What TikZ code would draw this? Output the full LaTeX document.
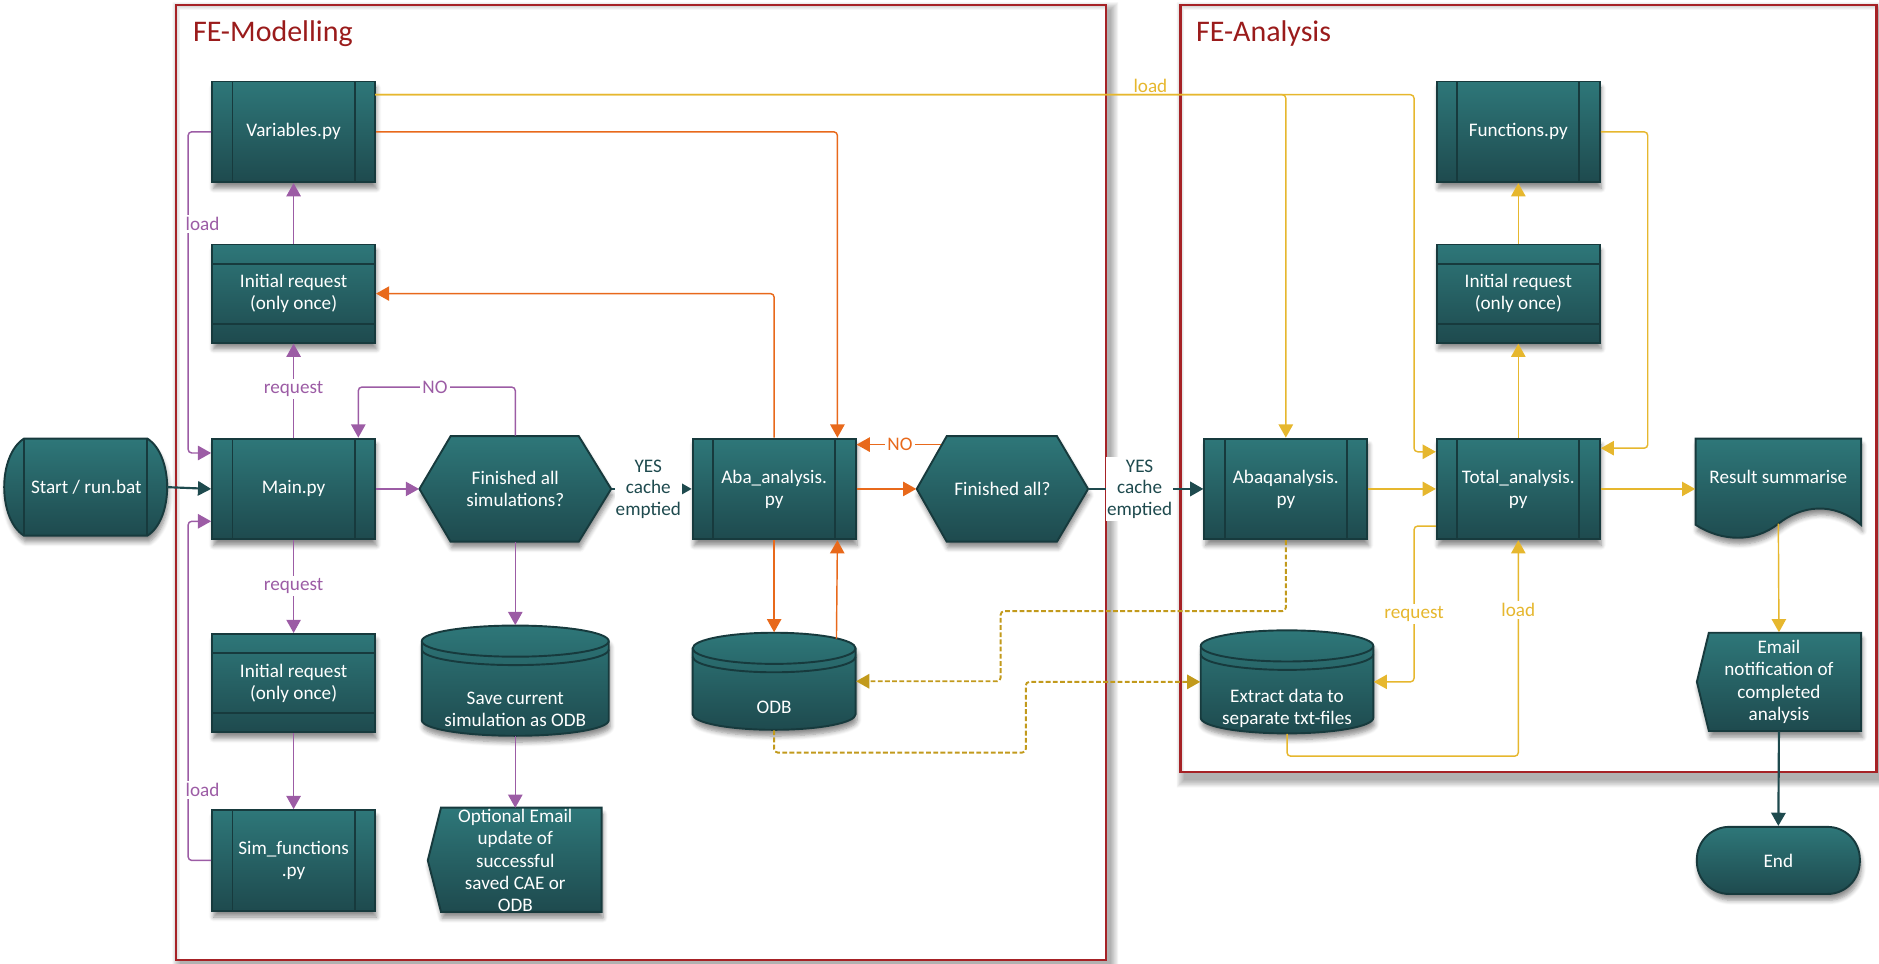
\documentclass[tikz,border=0pt]{standalone}
\usepackage{fontspec}
\setmainfont{Carlito}
\usetikzlibrary{arrows.meta,calc,shadows,shadows.blur}

\definecolor{tealTop}{HTML}{2E7779}
\definecolor{tealBot}{HTML}{1E4A4E}
\definecolor{tealLine}{HTML}{173A3D}
\definecolor{arrTeal}{HTML}{1E4A4E}
\definecolor{oraC}{HTML}{E8691B}
\definecolor{purC}{HTML}{9C5CA5}
\definecolor{yelC}{HTML}{E6B72E}
\definecolor{goldC}{HTML}{C29A1C}
\definecolor{frameRed}{HTML}{A62226}
\definecolor{titleRed}{HTML}{9A1B1B}

\tikzset{
  shp/.style={top color=tealTop, bottom color=tealBot, draw=tealLine, line width=0.8pt,
    blur shadow={shadow xshift=0.6pt, shadow yshift=-2.6pt, shadow blur steps=6, shadow opacity=45}},
  txt/.style={text=white, font=\fontsize{8}{9.2}\selectfont, align=center},
  proc/.style={shp, txt, rectangle, minimum width=68pt, minimum height=42pt, inner sep=0pt,
    path picture={\draw[tealLine, line width=0.8pt]
      ([xshift=8.5pt]path picture bounding box.north west) -- ([xshift=8.5pt]path picture bounding box.south west)
      ([xshift=-8.5pt]path picture bounding box.north east) -- ([xshift=-8.5pt]path picture bounding box.south east);}},
  reqbox/.style={shp, txt, rectangle, minimum width=68pt, minimum height=41pt, inner sep=0pt,
    path picture={\draw[tealLine, line width=0.8pt]
      ([yshift=-8pt]path picture bounding box.north west) -- ([yshift=-8pt]path picture bounding box.north east)
      ([yshift=8pt]path picture bounding box.south west) -- ([yshift=8pt]path picture bounding box.south east);}},
  holder/.style={txt, rectangle, inner sep=0pt},
  rimline/.style={draw=tealLine, line width=0.8pt},
  con/.style={line width=0.6pt, rounded corners=1.5pt, -{Triangle[length=5.5pt,width=6pt]}},
  pur/.style={con, draw=purC},
  ora/.style={con, draw=oraC},
  yel/.style={con, draw=yelC},
  dk/.style={con, draw=arrTeal, line width=0.9pt},
  dsh/.style={con, draw=goldC, line width=0.8pt, dash pattern=on 2pt off 1pt},
  lbl/.style={font=\fontsize{8}{9}\selectfont, fill=white, inner sep=1pt},
  yes/.style={lbl, text=arrTeal, align=center, inner xsep=0.5pt, font=\fontsize{8}{9}\selectfont},
  grpbox/.style={draw=frameRed, line width=1pt},
  grpshade/.style={fill=black, fill opacity=0.05, even odd rule},
  ttl/.style={text=titleRed, font=\fontsize{12.5}{14}\selectfont, anchor=west}
}

% cylinder body: #1 left, #2 right, #3 top, #4 bottom
\newcommand\drawcyl[4]{%
  \path[shp] (#1,#3+13) -- (#1,#4-13)
    arc[start angle=180, end angle=360, x radius={(#2-#1)/4*1pt}, y radius=6.5pt]
    -- (#2,#3+13)
    arc[start angle=0, end angle=180, x radius={(#2-#1)/4*1pt}, y radius=6.5pt] -- cycle;
  \path[rimline] (#1,#3+13) arc[start angle=180, end angle=360, x radius={(#2-#1)/4*1pt}, y radius=6.5pt];
  \path[rimline] (#1,#3+20) arc[start angle=180, end angle=360, x radius={(#2-#1)/4*1pt}, y radius=6.5pt];
}

\begin{document}
\begin{tikzpicture}[x=0.5pt,y=-0.5pt]
\useasboundingbox (0,0) rectangle (1568,804);

% ---------- group frames: soft shadow ring outside, then the border ----------
\foreach \s in {1,...,7} {
  \path[grpshade] (147+4-\s,4+5-\s) rectangle (923+3+\s,801+5+\s) (147,4) rectangle (923,801);
  \path[grpshade] (985+4-\s,4+5-\s) rectangle (1566+3+\s,644+6+\s) (985,4) rectangle (1566,644);
}
\path[grpbox] (147,4) rectangle (923,801);
\path[grpbox] (985,4) rectangle (1566,644);
\node[ttl] (tmod) at (154,28) {FE-Modelling};
\node[ttl] (tana) at (991,28) {FE-Analysis};

% ---------- start ----------
\path[shp] (20,366) -- (123,366) .. controls (145,380) and (145,433) .. (123,447)
  -- (20,447) .. controls (-2,433) and (-2,380) .. (20,366) -- cycle;
\path[rimline] (20,366) -- (20,447) (123,366) -- (123,447);
\node[holder, minimum width=67pt, minimum height=40.5pt] (start) at (72,406.5) {Start / run.bat};

% ---------- FE-Modelling ----------
\node[proc] (var) at (245,110) {Variables.py};
\node[reqbox] (ir1) at (245,245) {Initial request\\(only once)};
\node[proc] (main) at (245,408) {Main.py};
\node[reqbox] (ir2) at (245,570) {Initial request\\(only once)};
\node[proc] (sim) at (245,718) {Sim\_functions\\.py};

\path[shp] (350,408) -- (376,364) -- (483,364) -- (510,408) -- (483,452) -- (376,452) -- cycle;
\node[holder, minimum width=80pt, minimum height=44pt] (fin1) at (430,408) {Finished all\\simulations?};

\drawcyl{352}{508}{522}{614}
\node[holder, minimum width=78pt, minimum height=46pt] (save) at (430,568) {};
\node[txt] (savet) at (430,592) {Save current\\simulation as ODB};

\path[shp] (368,674) -- (502,674) -- (502,761) -- (368,761) -- (357,718) -- cycle;
\node[holder, minimum width=72.5pt, minimum height=43.5pt] (opt) at (430,718)
  {Optional Email\\update of\\successful\\saved CAE or\\ODB};

\node[proc] (aba) at (646,408) {Aba\_analysis.\\py};

\drawcyl{578}{714}{528}{609}
\node[holder, minimum width=68pt, minimum height=40.5pt] (odb) at (646,568.5) {};
\node[txt] (odbt) at (646,590) {ODB};

\path[shp] (765,408) -- (790,364) -- (882,364) -- (908,408) -- (882,452) -- (790,452) -- cycle;
\node[holder, minimum width=71.5pt, minimum height=44pt] (fin2) at (836.5,408) {Finished all?};

% ---------- FE-Analysis ----------
\node[proc] (abaq) at (1073,408) {Abaqanalysis.\\py};
\node[proc] (tot) at (1267,408) {Total\_analysis.\\py};
\node[proc] (fun) at (1267,110) {Functions.py};
\node[reqbox] (ir3) at (1267,245) {Initial request\\(only once)};

\drawcyl{1002}{1146}{526}{612}
\node[holder, minimum width=72pt, minimum height=43pt] (extract) at (1074,569) {};
\node[txt] (extractt) at (1074,591) {Extract data to\\separate txt-files};

\path[shp] (1415,366) -- (1553,366) -- (1553,438) .. controls (1530,418) and (1503,422) .. (1484,437)
  .. controls (1464,453) and (1437,452) .. (1415,438) -- cycle;
\node[holder, minimum width=69pt, minimum height=42pt] (res) at (1484,408) {};
\node[txt] (rest) at (1484,398) {Result summarise};
\coordinate (resw) at (1484,437);

\path[shp] (1426,528) -- (1553,528) -- (1553,610) -- (1426,610) -- (1416,569) -- cycle;
\node[holder, minimum width=68.5pt, minimum height=41pt] (mail) at (1484.5,569)
  {Email\\notification of\\completed\\analysis};

\node[shp, txt, rectangle, rounded corners=13.5pt, minimum width=68pt, minimum height=28pt] (end) at (1484,718) {End};

% ---------- bend points ----------
\coordinate (pl1) at (157,378);
\coordinate (pl2) at (157,435);
\coordinate (nol) at (299,323);
\coordinate (ys) at (313,79);
\coordinate (yb1) at (1180,377);
\coordinate (yb2) at (1375,374);
\coordinate (rqA) at (1180,439);
\coordinate (ldA) at (1267,631);
\coordinate (dA) at (835,510);
\coordinate (dB) at (856,628);
\coordinate (oB) at (698,533);
\coordinate (noB) at (785.5,371);

% ---------- connectors ----------
\draw[dk] (start.east) -- (main.west);
% purple
\draw[pur] (main.north) -- (ir1.south);
\draw[pur] (ir1.north) -- (var.south);
\draw[pur] (var.west) -| (pl1) -- (pl1 -| main.west);
\draw[pur] (main.south) -- (ir2.north);
\draw[pur] (ir2.south) -- (sim.north);
\draw[pur] (sim.west) -| (pl2) -- (pl2 -| main.west);
\draw[pur] (fin1.north) |- (nol) -- (nol |- main.north);
\draw[pur] (main.east) -- (fin1.west);
\draw[pur] (fin1.south) -- (save.north);
\draw[pur] (save.south) -- (opt.north);
% teal
\draw[dk] (fin1.east) -- (aba.west);
\draw[dk] (fin2.east) -- (abaq.west);
\draw[dk] (mail.south) -- (end.north);
% orange
\draw[ora] (var.east) -| ([xshift=-8pt]aba.north east);
\draw[ora] (aba.north) |- (ir1.east);
\draw[ora] (aba.east) -- (fin2.west);
\draw[ora] (noB) -- (noB -| aba.east);
\draw[ora] (aba.south) -- (odb.north);
\draw[ora] (oB) -- ([xshift=-8pt]aba.south east);
% yellow
\draw[yel] (ys) -| (abaq.north);
\draw[yel] (ys) -| (yb1) -- (yb1 -| tot.west);
\draw[yel] (fun.east) -| (yb2) -- (yb2 -| tot.east);
\draw[yel] (tot.north) -- (ir3.south);
\draw[yel] (ir3.north) -- (fun.south);
\draw[yel] (abaq.east) -- (tot.west);
\draw[yel] (tot.east) -- (res.west);
\draw[yel] (resw) -- (mail.north);
\draw[yel] (rqA -| tot.west) -- (rqA) |- (extract.east);
\draw[yel] (extract.south) |- (ldA) -- (tot.south);
% dashed data links
\draw[dsh] (abaq.south) |- (dA) |- (odb.east);
\draw[dsh] (odb.south) |- (dB) |- (extract.west);

% ---------- connector labels ----------
\node[lbl, text=purC] (lreq1) at (245,325) {request};
\node[lbl, text=purC] (lreq2) at (245,489) {request};
\node[lbl, text=purC] (lload1) at (169,187) {load};
\node[lbl, text=purC] (lload2) at (169,659) {load};
\node[lbl, text=purC] (lno1) at (363,323) {NO};
\node[lbl, text=oraC] (lno2) at (751,371) {NO};
\node[yes] (lyes1) at (541,408) {YES\\cache\\emptied};
\node[yes] (lyes2) at (951,408) {YES\\cache\\emptied};
\node[lbl, text=yelC, fill=none, anchor=south] (lload3) at (960,80) {load};
\node[lbl, text=yelC] (lreq3) at (1180,512) {request};
\node[lbl, text=yelC] (lload4) at (1267,509) {load};

\end{tikzpicture}
\end{document}
